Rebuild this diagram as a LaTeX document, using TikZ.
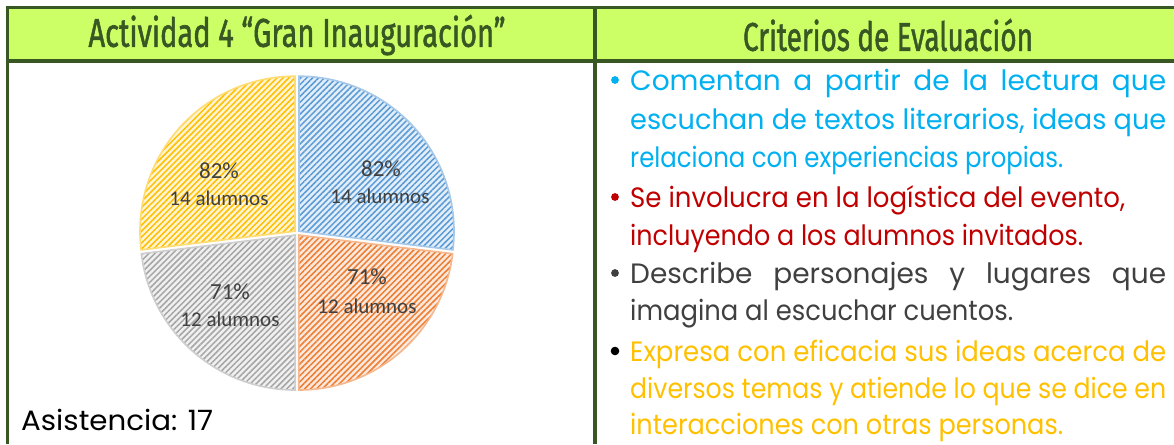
\documentclass[tikz,border=0pt]{standalone}
\usepackage{fontspec}
\setmainfont{Poppins}
\newfontfamily\calfont{Carlito}
\newfontfamily\headfont{Fira Sans}[FakeBold=1.6]
\usetikzlibrary{patterns.meta}
\definecolor{bordergreen}{RGB}{56,87,35}
\definecolor{headfill}{RGB}{204,255,102}
\definecolor{pblue}{RGB}{91,155,213}
\definecolor{porange}{RGB}{237,125,49}
\definecolor{pgray}{RGB}{165,165,165}
\definecolor{pyellow}{RGB}{255,192,0}
\definecolor{lblue}{RGB}{226,238,249}
\definecolor{lorange}{RGB}{252,232,220}
\definecolor{lgray}{RGB}{240,240,240}
\definecolor{lyellow}{RGB}{255,244,212}
\definecolor{tblue}{RGB}{0,176,240}
\definecolor{tred}{RGB}{192,0,0}
\definecolor{tdark}{RGB}{64,64,64}
\definecolor{tyellow}{RGB}{255,192,0}
\definecolor{labgray}{RGB}{64,64,64}
\newlength\jw
\newcommand\jline[1]{\settowidth\jw{#1}\ifdim\jw>536pt\resizebox{536pt}{\height}{#1}\else\makebox[536pt][s]{#1}\fi}
\newcommand\fitline[2]{\resizebox{#1}{\height}{#2}}
\newcommand\pieslice[5]{%
  \pgfmathsetmacro\slicemid{(#1+#2)/2}%
  \begin{scope}[shift={(\slicemid:2.7)}]
    \fill[#3] (0,0) -- (#1:155) arc[start angle=#1, end angle=#2, radius=155] -- cycle;
    \fill[pattern={Lines[angle=45,distance=4.2pt,line width=1.5pt]}, pattern color=#4]
      (0,0) -- (#1:155) arc[start angle=#1, end angle=#2, radius=155] -- cycle;
    \draw[#4!55, line width=1.6pt] (0,0) -- (#1:155) arc[start angle=#1, end angle=#2, radius=155] -- cycle;
    \coordinate (#5) at (0,0);
  \end{scope}}
\tikzset{
  border/.style={draw=bordergreen, line width=3.5pt},
  headtext/.style={text=bordergreen, inner sep=0pt, font=\headfont\bfseries\fontsize{40}{42}\selectfont},
  lab/.style={text=labgray, inner sep=0pt, font=\calfont\fontsize{21}{24}\selectfont},
  pct/.style={lab, font=\calfont\fontsize{23}{24}\selectfont},
  crit/.style={anchor=base west, inner sep=0pt, font=\fontsize{28}{32}\selectfont},
  bullet/.style={radius=3.9},
}
\begin{document}
\begin{tikzpicture}[x=1pt,y=-1pt]
\useasboundingbox (0,0) rectangle (1174,444);
% header
\fill[headfill] (7.5,7.5) rectangle (1174,61);
\draw[border] (1174,7.5) -- (7.5,7.5) -- (7.5,444);
\draw[border] (7.5,61) -- (1174,61);
\draw[border] (595,7.5) -- (595,444);
\node[headtext, font=\headfont\fontsize{40}{42}\selectfont] (h1) at (297,35) {\fitline{417pt}{Actividad 4 “Gran Inauguración”}};
\node[headtext, font=\headfont\fontsize{40}{42}\selectfont] (h2) at (888,35) {\fitline{290pt}{Criterios de Evaluación}};
% pie
\begin{scope}[shift={(297,233)}, x={(1pt,0pt)}, y={(0pt,1pt)}]
  \pieslice{90}{-6.923}{lblue}{pblue}{sb}
  \pieslice{-6.923}{-90}{lorange}{porange}{so}
  \pieslice{-90}{-173.077}{lgray}{pgray}{sg}
  \pieslice{-173.077}{-270}{lyellow}{pyellow}{sy}
\end{scope}
\node[pct] (b1) at (381,169) {82\%};
\node[lab] (b2) at (380,196) {14 alumnos};
\node[pct] (y1) at (219,171) {82\%};
\node[lab] (y2) at (219,198) {14 alumnos};
\node[pct] (o1) at (367,277) {71\%};
\node[lab] (o2) at (367,306) {12 alumnos};
\node[pct] (g1) at (230,292) {71\%};
\node[lab] (g2) at (230,319) {12 alumnos};
\node[crit, text=black] (asis) at (21,430) {\fitline{192pt}{Asistencia: 17}};
% criteria
\fill[tblue] (615,80) circle[bullet];
\node[crit, text=tblue] (c1) at (630,90) {\jline{Comentan a partir de la lectura que}};
\node[crit, text=tblue] (c2) at (630,129) {\jline{escuchan de textos literarios, ideas que}};
\node[crit, text=tblue] (c3) at (630,167) {\fitline{433pt}{relaciona con experiencias propias.}};
\fill[tred] (615,197) circle[bullet];
\node[crit, text=tred] (c4) at (630,207) {\fitline{495pt}{Se involucra en la logística del evento,}};
\node[crit, text=tred] (c5) at (630,245) {\fitline{453pt}{incluyendo a los alumnos invitados.}};
\fill[tdark] (615,273) circle[bullet];
\node[crit, text=tdark] (c6) at (630,283) {\jline{Describe personajes y lugares que}};
\node[crit, text=tdark] (c7) at (630,320) {\fitline{383pt}{imagina al escuchar cuentos.}};
\fill[black] (615,351) circle[radius=4.3];
\node[crit, text=tyellow] (c8) at (630,361) {\jline{Expresa con eficacia sus ideas acerca de}};
\node[crit, text=tyellow] (c9) at (630,398) {\jline{diversos temas y atiende lo que se dice en}};
\node[crit, text=tyellow] (c10) at (630,434) {\fitline{433pt}{interacciones con otras personas.}};
\end{tikzpicture}
\end{document}
